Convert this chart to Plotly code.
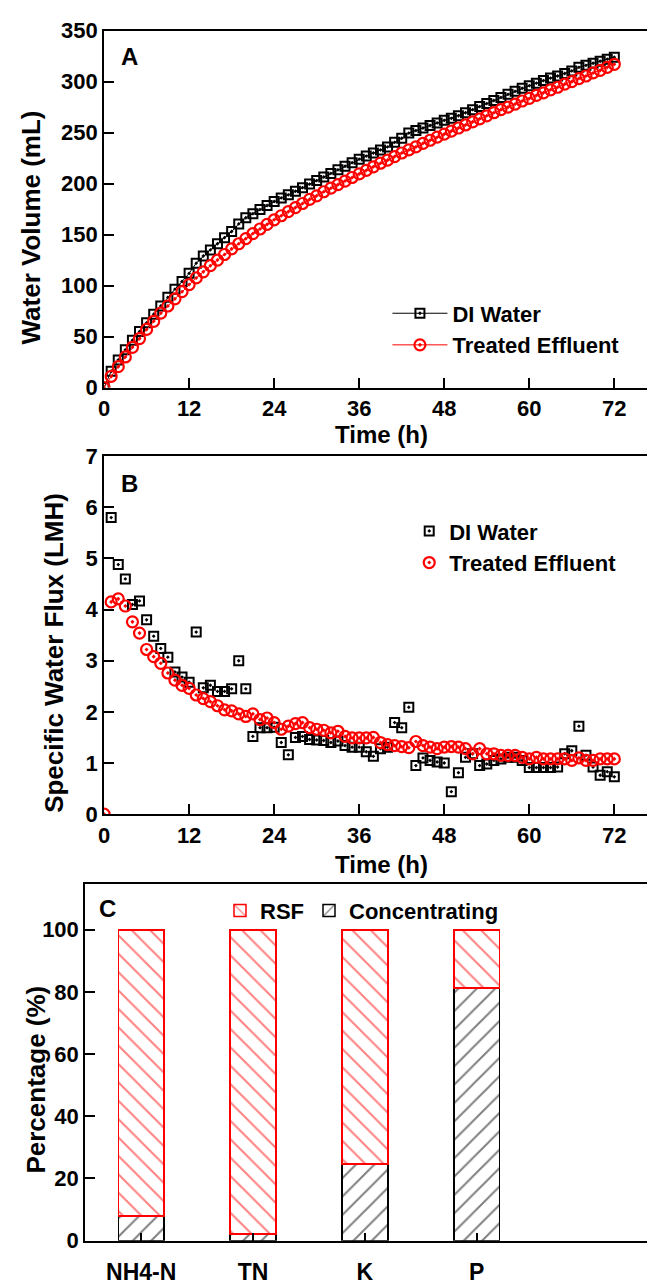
import plotly.graph_objects as go

# ---------------- data ----------------
hours = list(range(0, 73))

di_volume = [0, 16, 27, 37, 46.5, 55, 63.5, 72, 80, 88.5, 96.5, 104, 112, 122, 129, 135, 141, 147, 153,
             160.5, 166.5, 170.5, 174.5, 178.5, 182.5, 186, 189, 192.5, 196, 199.5, 203, 206.5, 210,
             213.5, 217, 220.5, 224, 227, 230, 233, 236, 240.5, 244.5, 249.5, 252, 254.5, 257, 259.5,
             262, 264, 266.5, 269.5, 272.5, 275.5, 278.5, 281.5, 284.5, 287.5, 290.5, 293.5, 296,
             298.5, 301, 303.5, 305.5, 308, 310.5, 314, 316, 318, 320, 322, 324]

te_volume = [0, 11, 20.5, 30, 39.5, 48, 57, 65, 73, 80, 87, 94, 101, 107.5, 113.5, 119.5, 125, 130.5,
             136, 141, 146, 151, 155.5, 160, 164.5, 168.5, 172.5, 176.5, 180.5, 184.5, 188, 192,
             195.5, 199, 202.5, 206, 209.5, 213, 216.5, 220, 223, 226.5, 230, 233, 236, 239.5, 242.5,
             245.5, 248.5, 251.5, 254.5, 257.5, 260.5, 263.5, 266.5, 269.5, 272.5, 275, 278, 281,
             283.5, 286.5, 289, 292, 294.5, 297.5, 300, 303, 305.5, 308.5, 311, 314, 317]

flux_hours_di = list(range(1, 73))
di_flux = [5.80, 4.88, 4.60, 4.10, 4.17, 3.80, 3.48, 3.24, 3.07, 2.78, 2.68, 2.58, 3.56, 2.47, 2.52,
           2.40, 2.40, 2.45, 3.00, 2.45, 1.52, 1.69, 1.69, 1.70, 1.40, 1.16, 1.50, 1.52, 1.46, 1.45,
           1.44, 1.40, 1.43, 1.34, 1.31, 1.31, 1.22, 1.13, 1.28, 1.31, 1.79, 1.69, 2.09, 0.95, 1.10,
           1.05, 1.02, 1.00, 0.44, 0.81, 1.11, 1.18, 0.95, 0.98, 1.05, 1.08, 1.11, 1.11, 1.05, 0.91,
           0.91, 0.91, 0.91, 0.92, 1.18, 1.24, 1.72, 1.15, 0.92, 0.76, 0.83, 0.73]

flux_hours_te = list(range(0, 73))
te_flux = [0.0, 4.15, 4.21, 4.07, 3.76, 3.54, 3.22, 3.08, 2.95, 2.76, 2.62, 2.52, 2.46, 2.33, 2.26,
           2.20, 2.12, 2.04, 2.02, 1.96, 1.91, 1.96, 1.85, 1.88, 1.79, 1.66, 1.72, 1.77, 1.79, 1.69,
           1.66, 1.64, 1.59, 1.62, 1.52, 1.49, 1.49, 1.49, 1.50, 1.40, 1.36, 1.34, 1.32, 1.30, 1.42,
           1.34, 1.31, 1.28, 1.31, 1.32, 1.31, 1.28, 1.18, 1.28, 1.18, 1.18, 1.15, 1.15, 1.15, 1.11,
           1.08, 1.11, 1.08, 1.08, 1.08, 1.08, 1.05, 1.10, 1.05, 1.05, 1.08, 1.08, 1.08]

nutrients = ["NH4-N", "TN", "K", "P"]
concentrating = [8.0, 2.2, 24.6, 81.2]
rsf = [92.0, 97.8, 75.4, 18.8]

x_ticks = [0, 12, 24, 36, 48, 60, 72]
pct_ticks = [0, 20, 40, 60, 80, 100]

# ---------------- layout helpers ----------------
W, H = 647, 1288
FONT = "Arial, Liberation Sans, sans-serif"
NARROW = "Liberation Sans Narrow, Arial Narrow, Arial, Liberation Sans, sans-serif"


def px(x):
    return x / W


def py(y):
    return 1 - y / H


fig = go.Figure()

# Panel A
fig.add_trace(go.Scatter(x=hours, y=di_volume, mode="lines+markers", name="DI Water",
                         line=dict(color="black", width=1),
                         marker=dict(symbol="square-open-dot", size=9, color="black",
                                     line=dict(width=2, color="black")),
                         xaxis="x", yaxis="y", legend="legend"))
fig.add_trace(go.Scatter(x=hours, y=te_volume, mode="lines+markers", name="Treated Effluent",
                         line=dict(color="red", width=1),
                         marker=dict(symbol="circle-open-dot", size=11, color="red",
                                     line=dict(width=2.2, color="red")),
                         xaxis="x", yaxis="y", legend="legend"))

# Panel B
fig.add_trace(go.Scatter(x=flux_hours_di, y=di_flux, mode="markers", name="DI Water",
                         marker=dict(symbol="square-open-dot", size=9, color="black",
                                     line=dict(width=2, color="black")),
                         xaxis="x2", yaxis="y2", legend="legend2"))
fig.add_trace(go.Scatter(x=flux_hours_te, y=te_flux, mode="markers", name="Treated Effluent",
                         marker=dict(symbol="circle-open-dot", size=11, color="red",
                                     line=dict(width=2.2, color="red")),
                         xaxis="x2", yaxis="y2", legend="legend2"))

# Panel C
fig.add_trace(go.Bar(x=nutrients, y=concentrating, name="Concentrating", width=0.41,
                     marker=dict(color="white", line=dict(color="black", width=1.5),
                                 pattern=dict(shape="/", fgcolor="black", bgcolor="white",
                                              size=13, solidity=0.15)),
                     xaxis="x3", yaxis="y3", legend="legend3"))
fig.add_trace(go.Bar(x=nutrients, y=rsf, name="RSF", width=0.41,
                     marker=dict(color="white", line=dict(color="red", width=1.5),
                                 pattern=dict(shape="\\", fgcolor="red", bgcolor="white",
                                              size=13, solidity=0.15)),
                     xaxis="x3", yaxis="y3", legend="legend3"))

tick_font = dict(family=FONT, size=22, color="black", weight="bold")
narrow_tick_font = dict(family=NARROW, size=23, color="black", weight="bold")

axis_common = dict(showline=True, linecolor="black", linewidth=2, ticks="inside",
                   tickcolor="black", tickwidth=2, ticklen=10, showgrid=False, zeroline=False)

x_range = [0, (W - 99) / 7.153]

fig.update_layout(
    width=W, height=H, margin=dict(l=0, r=0, t=0, b=0),
    paper_bgcolor="white", plot_bgcolor="white",
    barmode="stack", showlegend=True,
    font=dict(family=FONT, color="black"),
    xaxis=dict(domain=[px(99), 1], range=x_range, tickvals=x_ticks, mirror=True,
               anchor="y", tickfont=tick_font, **axis_common),
    yaxis=dict(domain=[py(383), py(19)], range=[0, 350], dtick=50, anchor="x",
               tickfont=tick_font, **axis_common),
    xaxis2=dict(domain=[px(99), 1], range=x_range, tickvals=x_ticks, mirror=True,
                anchor="y2", tickfont=tick_font, **axis_common),
    yaxis2=dict(domain=[py(818), py(453)], range=[0, 7], dtick=1, anchor="x2",
                tickfont=tick_font, **axis_common),
    xaxis3=dict(domain=[px(80), 1], range=[-0.5, (W - 136) / 113], mirror=True,
                anchor="y3", type="category", tickfont=narrow_tick_font,
                ticklabelstandoff=10, **{**axis_common, "ticklen": 8}),
    yaxis3=dict(domain=[py(1253), py(889)], range=[0, 114.8], tickvals=pct_ticks,
                anchor="x3", tickfont=dict(family=NARROW, size=22, color="black", weight="bold"),
                **axis_common),
    legend=dict(x=px(385), y=py(286), xanchor="left", yanchor="top", itemwidth=55,
                bgcolor="rgba(0,0,0,0)", tracegroupgap=0,
                font=dict(family=FONT, size=22, color="black", weight="bold")),
    legend2=dict(x=px(407), y=py(508), xanchor="left", yanchor="top",
                 bgcolor="rgba(0,0,0,0)",
                 font=dict(family=FONT, size=22, color="black", weight="bold")),
    legend3=dict(x=px(216), y=py(895), xanchor="left", yanchor="top", orientation="h",
                 traceorder="reversed", bgcolor="rgba(0,0,0,0)",
                 font=dict(family=NARROW, size=22, color="black", weight="bold")),
)

title_font = dict(family=FONT, size=26, color="black", weight="bold")
xt_font = dict(family=FONT, size=24, color="black", weight="bold")
letter_font = dict(family=FONT, size=24, color="black", weight="bold")

annotations = [
    dict(text="Water Volume (mL)", x=px(25), y=py(220), textangle=-90, font=title_font),
    dict(text="Specific Water Flux (LMH)", x=px(49), y=py(654), textangle=-90, font=title_font),
    dict(text="Percentage (%)", x=px(30), y=py(1089), textangle=-90,
         font=dict(family=NARROW, size=26, color="black", weight="bold")),
    dict(text="Time (h)", x=px(379), y=py(431), font=xt_font),
    dict(text="Time (h)", x=px(379), y=py(869), font=xt_font),
    dict(text="A", x=px(125), y=py(45), font=letter_font),
    dict(text="B", x=px(125), y=py(481), font=letter_font),
    dict(text="C", x=px(102), y=py(914), font=dict(family=NARROW, size=24, color="black",
                                                  weight="bold")),
]
for a in annotations:
    fig.add_annotation(xref="paper", yref="paper", xanchor="center", yanchor="middle",
                       showarrow=False, **a)

fig.write_html("out.html")
